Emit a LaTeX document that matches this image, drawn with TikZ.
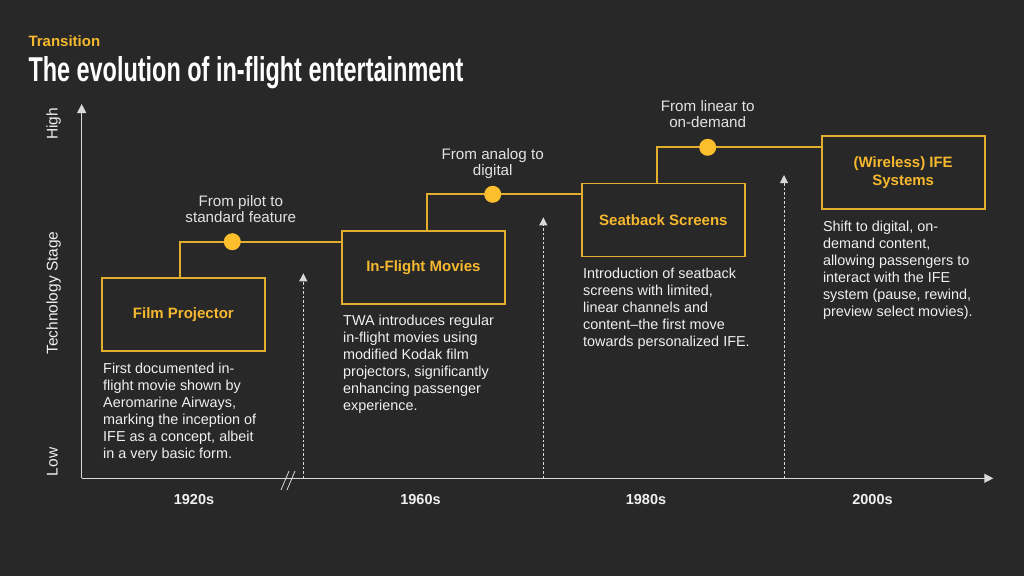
\documentclass[tikz,border=0pt]{standalone}
\usepackage{fontspec}
\setmainfont{Liberation Sans}
\usetikzlibrary{arrows.meta,calc}
\definecolor{bg}{HTML}{282828}
\definecolor{ylw}{HTML}{F5B82E}
\definecolor{boxc}{HTML}{E2AE2E}
\definecolor{dotc}{HTML}{FDBE2E}
\definecolor{txt}{HTML}{F0F0F0}
\definecolor{lblc}{HTML}{E2E2E2}
\definecolor{axc}{HTML}{D8D8D8}
\begin{document}
\begin{tikzpicture}[x=1pt,y=-1pt,
  stagebox/.style={draw=boxc, line width=1.8pt, minimum width=163pt, minimum height=73pt,
    inner sep=0pt, align=center, text=ylw, font=\fontsize{15}{18}\selectfont\bfseries},
  desc/.style={anchor=north west, inner sep=0pt, align=left, text=txt,
    font=\fontsize{14.4}{17}\selectfont},
  conn/.style={draw=boxc, line width=1.8pt},
  dotn/.style={circle, fill=dotc, minimum size=17pt, inner sep=0pt},
  lbl/.style={anchor=north, inner sep=0pt, align=center, text=lblc,
    font=\fontsize{15.2}{16.2}\selectfont},
  year/.style={anchor=base, inner sep=0pt, text=txt, font=\fontsize{14.5}{17}\selectfont\bfseries},
  axlbl/.style={anchor=base, rotate=90, inner sep=0pt, text=txt, font=\fontsize{15.5}{18}\selectfont},
  axis/.style={draw=axc, line width=1.3pt, -{Triangle[width=9pt,length=9pt]}},
  dasharrow/.style={draw=axc, line width=0.9pt, dash pattern=on 2.5pt off 2pt,
    -{Triangle[width=8pt,length=8pt]}},
  brk/.style={draw=axc, line width=0.8pt}
]
\fill[bg] (0,0) rectangle (1024,576);
\useasboundingbox (0,0) rectangle (1024,576);

% titles
\node[anchor=base west, inner sep=0pt, text=ylw, font=\fontsize{15}{18}\selectfont\bfseries]
  (kicker) at (28.3,46.7) {Transition};
\node[anchor=base west, inner sep=0pt, text=white, font=\bfseries\fontsize{36}{40}\selectfont]
  (title) at (28.3,81.7) {\resizebox{435pt}{25pt}{The evolution of in-flight entertainment}};

% axes
\coordinate (O) at (81.7,478.3);
\coordinate (ytip) at (81.7,104);
\coordinate (xtip) at (993.3,478.3);
\draw[axis] (O) -- (ytip);
\draw[axis] (O) -- (xtip);

% axis labels
\node[axlbl] (high) at (57.5,124) {High};
\node[axlbl] (tstage) at (57.5,293) {Technology Stage};
\node[axlbl] (low) at (57.5,462) {Low};

% break marks
\coordinate (bk1a) at (281,490); \coordinate (bk1b) at (289,471);
\coordinate (bk2a) at (287,490); \coordinate (bk2b) at (295,471);
\draw[brk] (bk1a) -- (bk1b);
\draw[brk] (bk2a) -- (bk2b);

% dashed arrows
\coordinate (a1s) at (303.3,478.3); \coordinate (a1e) at (303.3,273.3);
\coordinate (a2s) at (543.3,478.3); \coordinate (a2e) at (543.3,217.3);
\coordinate (a3s) at (784,478.3);   \coordinate (a3e) at (784,175);
\draw[dasharrow] (a1s) -- (a1e);
\draw[dasharrow] (a2s) -- (a2e);
\draw[dasharrow] (a3s) -- (a3e);

% year labels
\node[year] (y1) at (194,504) {1920s};
\node[year] (y2) at (420.5,504) {1960s};
\node[year] (y3) at (646,504) {1980s};
\node[year] (y4) at (872.5,504) {2000s};

% boxes
\node[stagebox] (b1) at (183.4,314.2) {Film Projector};
\node[stagebox] (b2) at (423.4,267.2) {In-Flight Movies};
\node[stagebox] (b3) at (663.4,220) {Seatback Screens};
\node[stagebox] (b4) at (903.2,172.5) {(Wireless) IFE\\Systems};

% descriptions
\node[desc] (t1) at ([xshift=2pt,yshift=-11pt]b1.south west)
  {First documented in-\\flight movie shown by\\Aeromarine Airways,\\marking the inception of\\IFE as a concept, albeit\\in a very basic form.};
\node[desc] (t2) at ([xshift=2pt,yshift=-10pt]b2.south west)
  {TWA introduces regular\\in-flight movies using\\modified Kodak film\\projectors, significantly\\enhancing passenger\\experience.};
\node[desc] (t3) at ([xshift=2pt,yshift=-10.5pt]b3.south west)
  {Introduction of seatback\\screens with limited,\\linear channels and\\content–the first move\\towards personalized IFE.};
\node[desc] (t4) at ([xshift=2pt,yshift=-11pt]b4.south west)
  {Shift to digital, on-\\demand content,\\allowing passengers to\\interact with the IFE\\system (pause, rewind,\\preview select movies).};

% connectors
\coordinate (p1) at (232.3,241.7);
\coordinate (p2) at (492.7,194.3);
\coordinate (p3) at (707.7,147.3);
\draw[conn] ([xshift=-3.4pt]b1.north) |- (p1) -- (p1 -| b2.west);
\draw[conn] ([xshift=3.3pt]b2.north) |- (p2) -- (p2 -| b3.west);
\draw[conn] ([xshift=-6.1pt]b3.north) |- (p3) -- (p3 -| b4.west);
\node[dotn] (d1) at (p1) {};
\node[dotn] (d2) at (p2) {};
\node[dotn] (d3) at (p3) {};

% transition labels
\node[lbl] (l1) at ([xshift=8.5pt,yshift=46.7pt]p1) {From pilot to\\standard feature};
\node[lbl] (l2) at ([yshift=46pt]p2) {From analog to\\digital};
\node[lbl] (l3) at ([yshift=47.3pt]p3) {From linear to\\on-demand};
\end{tikzpicture}
\end{document}
